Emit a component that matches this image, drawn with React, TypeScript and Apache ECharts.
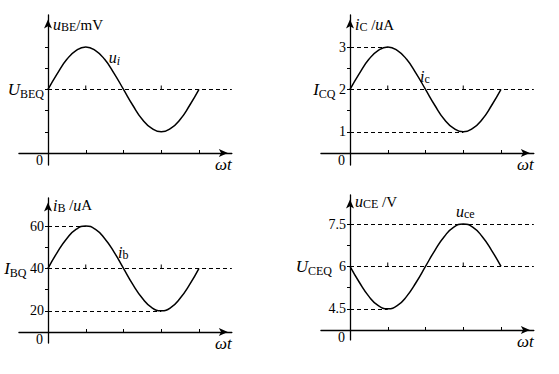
import React, { useEffect, useRef } from 'react';
import * as echarts from 'echarts';

// ωt in quarter periods (1 unit = π/2)
const phase = [0, 0.25, 0.5, 0.75, 1, 1.25, 1.5, 1.75, 2, 2.25, 2.5, 2.75, 3, 3.25, 3.5, 3.75, 4];

// waveforms
const uBE = [0, 0.38, 0.71, 0.92, 1, 0.92, 0.71, 0.38, 0, -0.38, -0.71, -0.92, -1, -0.92, -0.71, -0.38, 0]; // relative to U_BEQ
const iC = [2, 2.38, 2.71, 2.92, 3, 2.92, 2.71, 2.38, 2, 1.62, 1.29, 1.08, 1, 1.08, 1.29, 1.62, 2];
const iB = [40, 47.7, 54.1, 58.5, 60, 58.5, 54.1, 47.7, 40, 32.3, 25.9, 21.5, 20, 21.5, 25.9, 32.3, 40];
const uCE = [6, 5.43, 4.94, 4.61, 4.5, 4.61, 4.94, 5.43, 6, 6.57, 7.06, 7.39, 7.5, 7.39, 7.06, 6.57, 6];

// reference levels [low, quiescent, high]
const uBELevels = [-1, 0, 1];
const iCLevels = [1, 2, 3];
const iBLevels = [20, 40, 60];
const uCELevels = [4.5, 6, 7.5];

// tick labels [low, quiescent, high]
const uBETickLabels = ['', '', ''];
const iCTickLabels = ['1', '2', '3'];
const iBTickLabels = ['20', '40', '60'];
const uCETickLabels = ['4.5', '6', '7.5'];
const originLabel = '0';

const xTickValues = [1, 2, 3, 4];
const yTickValues = [1, 2, 3, 4, 5];
const midMarks = [1, 3];

const FONT = '"Liberation Serif", "Times New Roman", Times, serif';
const BLACK = '#000';

const rich: any = {
  it: { fontFamily: FONT, fontStyle: 'italic', fontSize: 17, color: BLACK },
  itn: { fontFamily: FONT, fontStyle: 'italic', fontSize: 16, color: BLACK },
  sub: { fontFamily: FONT, fontSize: 12, color: BLACK, padding: [9, 0, 0, 0] },
  nsub: { fontFamily: FONT, fontSize: 12, color: BLACK, padding: [5, 0, 0, 0] },
  isub: { fontFamily: FONT, fontStyle: 'italic', fontSize: 12, color: BLACK, padding: [7, 0, 0, 0] },
  csub: { fontFamily: FONT, fontSize: 12, color: BLACK, padding: [6, 0, 0, 0] },
  up: { fontFamily: FONT, fontSize: 15, color: BLACK },
  n: { fontFamily: FONT, fontSize: 14, color: BLACK },
};

const SX = 37.75;
const SY = 21.2;
const XMIN = -0.77;
const XMAX = 4.87;

type Panel = {
  values: number[];
  levels: number[];
  tickLabels: string[];
  quiescent: string;
  qGap: string;
  name: string;
  nameGap: number;
  curve: string;
  labelIdx: number;
  labelPos: string;
  labelOffset: number[];
  dash: (string | null)[];
  ox: number;
  oy: number;
  ymax: number;
  ymin: number;
};

const panels: Panel[] = [
  {
    values: uBE, levels: uBELevels, tickLabels: uBETickLabels,
    quiescent: '{it|U}{sub|BEQ}', qGap: '',
    name: '{itn|u}{nsub|BE}{up|/mV}', nameGap: -10,
    curve: '{itn|u}{isub|i}', labelIdx: 6, labelPos: 'right', labelOffset: [0, -2],
    dash: [null, 'full', null],
    ox: 48, oy: 153, ymax: 6.51, ymin: -0.57,
  },
  {
    values: iC, levels: iCLevels, tickLabels: iCTickLabels,
    quiescent: '{it|I}{sub|CQ}', qGap: ' ',
    name: '{itn|i}{nsub|C}{up| /}{itn|u}{up|A}', nameGap: -10,
    curve: '{itn|i}{csub|c}', labelIdx: 7, labelPos: 'right', labelOffset: [0, 3],
    dash: ['ext', 'full', 'ext'],
    ox: 350, oy: 153, ymax: 6.51, ymin: -0.57,
  },
  {
    values: iB, levels: iBLevels, tickLabels: iBTickLabels,
    quiescent: '{it|I}{sub|BQ}', qGap: ' ',
    name: '{itn|i}{nsub|B}{up| /}{itn|u}{up|A}', nameGap: -7,
    curve: '{itn|i}{csub|b}', labelIdx: 7, labelPos: 'right', labelOffset: [0, 0],
    dash: ['ext', 'full', 'ext'],
    ox: 48, oy: 332, ymax: 6.32, ymin: -0.52,
  },
  {
    values: uCE, levels: uCELevels, tickLabels: uCETickLabels,
    quiescent: '{it|U}{sub|CEQ}', qGap: '  ',
    name: '{itn|u}{nsub|CE}{up| /V}', nameGap: -7,
    curve: '{itn|u}{csub|ce}', labelIdx: 12, labelPos: 'top', labelOffset: [2, 0],
    dash: ['ext', 'full', 'full'],
    ox: 350, oy: 330, ymax: 6.37, ymin: -0.47,
  },
];

function buildOption() {
  const grid: any[] = [];
  const xAxis: any[] = [];
  const yAxis: any[] = [];
  const series: any[] = [];

  panels.forEach((p, i) => {
    const [, mid, hi] = p.levels;
    const toPlot = (v: number) => 3 + (2 * (v - mid)) / (hi - mid);
    const levelPlot = p.levels.map(toPlot);

    grid.push({
      left: p.ox + XMIN * SX,
      top: p.oy - p.ymax * SY,
      width: (XMAX - XMIN) * SX,
      height: (p.ymax - p.ymin) * SY,
      containLabel: false,
      outerBoundsMode: 'none',
    });

    xAxis.push({
      type: 'value',
      gridIndex: i,
      min: XMIN,
      max: XMAX,
      axisLine: {
        onZero: true,
        symbol: ['none', 'arrow'],
        symbolSize: [6, 9],
        symbolOffset: [0, -4],
        lineStyle: { color: BLACK, width: 1.3 },
      },
      axisTick: { show: true, inside: true, length: 3, customValues: xTickValues, lineStyle: { color: BLACK, width: 1 } },
      axisLabel: { show: false },
      splitLine: { show: false },
      name: '{it|ωt}',
      nameLocation: 'end',
      nameGap: 0,
      nameMoveOverlap: false,
      nameTextStyle: { align: 'right', verticalAlign: 'top', padding: [3, 0, 0, 0], color: BLACK, rich },
    });

    yAxis.push({
      type: 'value',
      gridIndex: i,
      min: p.ymin,
      max: p.ymax,
      axisLine: {
        onZero: true,
        symbol: ['none', 'arrow'],
        symbolSize: [6, 9],
        symbolOffset: [0, -4.5],
        lineStyle: { color: BLACK, width: 1.3 },
      },
      axisTick: { show: true, inside: false, length: 3, customValues: yTickValues, lineStyle: { color: BLACK, width: 1 } },
      axisLabel: { show: false },
      splitLine: { show: false },
      name: p.name,
      nameLocation: 'end',
      nameGap: p.nameGap,
      nameMoveOverlap: false,
      nameTextStyle: { align: 'left', verticalAlign: 'middle', padding: [0, 0, 0, 5], color: BLACK, rich },
    });

    const maxIdx = p.values.indexOf(Math.max(...p.values));
    const minIdx = p.values.indexOf(Math.min(...p.values));
    const extEnds = [phase[minIdx], XMAX, phase[maxIdx]];

    const dashData: any[] = [];
    p.dash.forEach((d, j) => {
      if (!d) return;
      const endX = d === 'full' ? XMAX : extEnds[j];
      dashData.push([{ coord: [0, levelPlot[j]] }, { coord: [endX, levelPlot[j]] }]);
    });

    const data = phase.map((x, k) => {
      const val = [x, toPlot(p.values[k])];
      if (k === p.labelIdx) {
        return {
          value: val,
          label: {
            show: true,
            formatter: p.curve,
            position: p.labelPos,
            distance: 4,
            offset: p.labelOffset,
            color: BLACK,
            rich,
          },
        };
      }
      return val;
    });

    series.push({
      type: 'line',
      xAxisIndex: i,
      yAxisIndex: i,
      data,
      smooth: true,
      symbol: 'circle',
      symbolSize: 0,
      showSymbol: true,
      showAllSymbol: true,
      lineStyle: { color: BLACK, width: 1.5 },
      itemStyle: { color: BLACK },
      emphasis: { disabled: true },
      silent: true,
      z: 3,
      markLine: {
        silent: true,
        symbol: ['none', 'none'],
        label: { show: false },
        lineStyle: { color: BLACK, type: [4, 3], width: 1 },
        emphasis: { disabled: true },
        data: dashData,
      },
    });

    // small marks on the quiescent line
    series.push({
      type: 'scatter',
      xAxisIndex: i,
      yAxisIndex: i,
      symbol: 'rect',
      symbolSize: [1, 4],
      symbolOffset: [0, -2],
      itemStyle: { color: BLACK, opacity: 1 },
      silent: true,
      data: midMarks.map((x) => [x, levelPlot[1]]),
    });

    // value labels along the vertical axis
    const tickTexts = [
      p.tickLabels[0] ? `{n|${p.tickLabels[0]}}` : '',
      p.quiescent + (p.tickLabels[1] ? `{n|${p.qGap}${p.tickLabels[1]}}` : ''),
      p.tickLabels[2] ? `{n|${p.tickLabels[2]}}` : '',
    ];
    const labelData: any[] = levelPlot.map((y, j) => ({
      value: [0, y],
      label: { show: !!tickTexts[j], formatter: tickTexts[j], position: 'left', distance: 4, color: BLACK, textBorderWidth: 0, rich },
    }));
    labelData.push({
      value: [0, 0],
      label: { show: true, formatter: `{n|${originLabel}}`, position: 'left', distance: 5, offset: [0, 7], color: BLACK, textBorderWidth: 0, rich },
    });
    series.push({
      type: 'scatter',
      xAxisIndex: i,
      yAxisIndex: i,
      symbol: 'circle',
      symbolSize: 0,
      itemStyle: { color: BLACK, opacity: 1 },
      silent: true,
      data: labelData,
      z: 4,
    });
  });

  return {
    animation: false,
    backgroundColor: '#fff',
    textStyle: { fontFamily: FONT, color: BLACK },
    grid,
    xAxis,
    yAxis,
    series,
  };
}

export default function App() {
  const ref = useRef<HTMLDivElement>(null);
  useEffect(() => {
    if (!ref.current) return;
    const chart = echarts.init(ref.current, undefined, { renderer: 'svg' });
    chart.setOption(buildOption() as any);
    return () => chart.dispose();
  }, []);
  return (
    <div
      ref={ref}
      style={{ position: 'absolute', left: 0, top: 0, width: 559, height: 374, background: '#fff' }}
    />
  );
}
